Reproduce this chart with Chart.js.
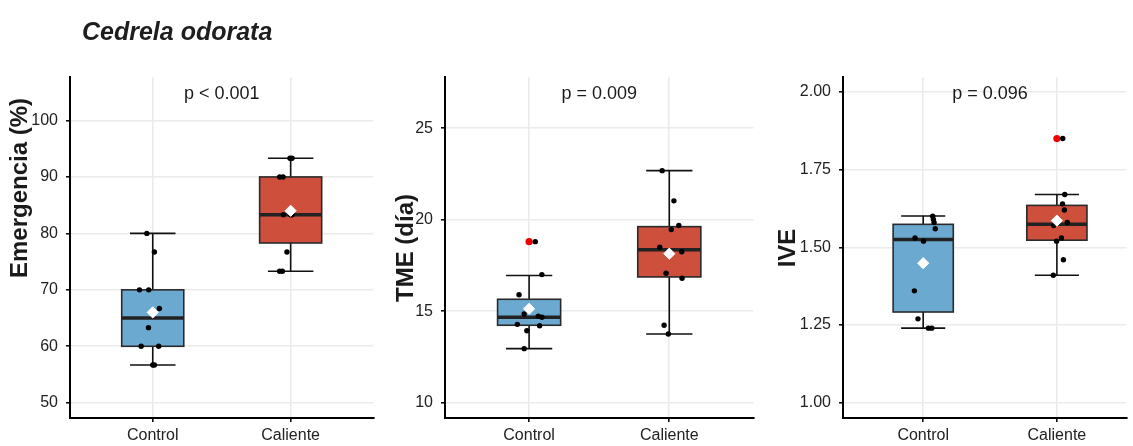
<!DOCTYPE html>
<html>
<head>
<meta charset="utf-8">
<script src="https://cdn.jsdelivr.net/npm/chart.js@4"></script>
<style>
  body { margin: 0; background: #fff; }
  #wrap { position: relative; width: 1133px; height: 446px; overflow: hidden; }
  canvas { position: absolute; top: 0; }
</style>
</head>
<body>
<div id="wrap">
  <canvas id="c1" width="380" height="446" style="left:0px"></canvas>
  <canvas id="c2" width="385" height="446" style="left:375px"></canvas>
  <canvas id="c3" width="373" height="446" style="left:760px"></canvas>
</div>
<script>
const groups = ['Control', 'Caliente'];

// Emergencia (%)
const emgStats = [[56.7, 60, 65, 70, 80], [73.3, 78.3, 83.3, 90, 93.3]]; // min, q1, median, q3, max
const emgMeans = [66, 84];
const emgVals = [80, 76.7, 70, 70, 66.7, 63.3, 60, 60, 56.7, 56.7,
                 93.3, 93.3, 90, 90, 83.3, 83.3, 83.3, 76.7, 73.3, 73.3];
const emgJit = [0.957, 1.012, 0.904, 0.971, 1.048, 0.969, 0.916, 1.043, 1.0, 1.012,
                1.995, 2.01, 1.92, 1.945, 1.947, 2.0, 2.01, 1.973, 1.92, 1.94];
const emgOut = [];
const emgTicks = [50, 60, 70, 80, 90, 100];

// TME (dia)
const tmeStats = [[12.95, 14.23, 14.67, 15.65, 16.95], [13.75, 16.87, 18.36, 19.62, 22.68]];
const tmeMeans = [15.13, 18.14];
const tmeVals = [18.8, 17.0, 15.9, 14.85, 14.28, 14.72, 14.67, 14.2, 13.93, 12.95,
                 22.68, 21.03, 19.68, 19.46, 18.5, 18.25, 17.07, 16.8, 14.23, 13.75];
const tmeJit = [1.044, 1.091, 0.928, 0.965, 0.916, 1.065, 1.091, 1.075, 0.984, 0.965,
                1.949, 2.033, 2.068, 2.014, 1.932, 2.089, 1.977, 2.091, 1.963, 1.993];
const tmeOut = [[1, 18.8]];
const tmeTicks = [10, 15, 20, 25];

// IVE
const iveStats = [[1.24, 1.292, 1.525, 1.574, 1.601], [1.41, 1.523, 1.574, 1.635, 1.67]];
const iveMeans = [1.449, 1.586];
const iveVals = [1.60, 1.59, 1.58, 1.56, 1.53, 1.52, 1.36, 1.27, 1.24, 1.24,
                 1.85, 1.67, 1.64, 1.62, 1.58, 1.57, 1.53, 1.52, 1.46, 1.41];
const iveJit = [1.071, 1.076, 1.081, 1.09, 0.939, 1.002, 0.934, 0.961, 1.039, 1.064,
                2.044, 2.059, 2.042, 2.056, 2.078, 1.976, 2.034, 1.998, 2.049, 1.973];
const iveOut = [[2, 1.85]];
const iveTicks = [1.00, 1.25, 1.50, 1.75, 2.00];

const pLabels = ['p < 0.001', 'p = 0.009', 'p = 0.096'];
const fillCols = ['#6ca9d1', '#cf4f3d'];
const FONT = '"Liberation Sans", Arial, sans-serif';

// boxes, whiskers and text drawn through the chart's own scales
const boxPlugin = {
  id: 'boxes',
  beforeDatasetsDraw(chart, args, o) {
    const { ctx } = chart;
    const xs = chart.scales.x, ys = chart.scales.y;
    ctx.save();
    o.stats.forEach((s, i) => {
      const c = i + 1;
      const x = xs.getPixelForValue(c);
      const xl = xs.getPixelForValue(c - 0.225), xr = xs.getPixelForValue(c + 0.225);
      const cl = xs.getPixelForValue(c - 0.165), cr = xs.getPixelForValue(c + 0.165);
      const [mn, q1, md, q3, mx] = s.map(v => ys.getPixelForValue(v));
      ctx.strokeStyle = '#111';
      ctx.lineWidth = 1.6;
      ctx.beginPath();
      ctx.moveTo(x, mn); ctx.lineTo(x, q1);
      ctx.moveTo(x, q3); ctx.lineTo(x, mx);
      ctx.moveTo(cl, mn); ctx.lineTo(cr, mn);
      ctx.moveTo(cl, mx); ctx.lineTo(cr, mx);
      ctx.stroke();
      ctx.fillStyle = fillCols[i];
      ctx.fillRect(xl, q3, xr - xl, q1 - q3);
      ctx.strokeStyle = '#2a2a2a';
      ctx.lineWidth = 1.6;
      ctx.strokeRect(xl, q3, xr - xl, q1 - q3);
      ctx.strokeStyle = '#222';
      ctx.lineWidth = 3.5;
      ctx.beginPath();
      ctx.moveTo(xl, md); ctx.lineTo(xr, md);
      ctx.stroke();
    });
    ctx.restore();
  },
  afterDraw(chart, args, o) {
    const { ctx } = chart;
    const xs = chart.scales.x;
    ctx.save();
    ctx.fillStyle = '#1a1a1a';
    ctx.textAlign = 'center';
    ctx.textBaseline = 'middle';
    ctx.font = '18px ' + FONT;
    ctx.fillText(o.p, xs.getPixelForValue(1.5), chart.chartArea.top + 17);
    ctx.translate(o.tx, o.ty);
    ctx.rotate(-Math.PI / 2);
    ctx.font = 'bold 24px ' + FONT;
    ctx.fillText(o.title, 0, 0);
    ctx.restore();
    if (o.main) {
      ctx.save();
      ctx.fillStyle = '#1e1e1e';
      ctx.font = 'italic bold 25px ' + FONT;
      ctx.textBaseline = 'alphabetic';
      ctx.fillText(o.main, 82, 40);
      ctx.restore();
    }
  }
};

function makePanel(id, cfg) {
  const pts = cfg.jit.map((x, i) => ({ x: x, y: cfg.vals[i] }));
  const means = cfg.means.map((m, i) => ({ x: i + 1, y: m }));
  const outs = cfg.outs.map(p => ({ x: p[0], y: p[1] }));
  return new Chart(document.getElementById(id), {
    type: 'scatter',
    data: {
      datasets: [
        { data: means, pointStyle: 'rectRot', pointRadius: 5.6, backgroundColor: '#fff', borderColor: '#fff', borderWidth: 1 },
        { data: pts, pointRadius: 2.7, backgroundColor: '#000', borderColor: '#000', borderWidth: 0 },
        { data: outs, pointRadius: 3.6, backgroundColor: '#f00000', borderColor: '#f00000', borderWidth: 0 }
      ]
    },
    options: {
      responsive: false,
      animation: false,
      events: [],
      layout: { padding: { top: 77, right: cfg.padRight, left: 0, bottom: 0 } },
      plugins: {
        legend: { display: false },
        tooltip: { enabled: false },
        boxes: { stats: cfg.stats, p: cfg.p, title: cfg.title, tx: cfg.tx, ty: cfg.ty, main: cfg.main }
      },
      scales: {
        x: {
          type: 'linear',
          min: 0.4,
          max: cfg.xMax,
          afterBuildTicks: s => { s.ticks = [{ value: 1 }, { value: 2 }]; },
          afterFit: s => { s.height = 28; },
          ticks: {
            callback: v => groups[v - 1],
            color: '#222',
            font: { family: FONT, size: 16 },
            padding: 4,
            maxRotation: 0
          },
          grid: { color: '#ebebeb', lineWidth: 1.6, tickColor: '#000', tickLength: 4, tickWidth: 1.5 },
          border: { color: '#000', width: 2 }
        },
        y: {
          min: cfg.yMin,
          max: cfg.yMax,
          afterBuildTicks: s => { s.ticks = cfg.ticks.map(v => ({ value: v })); },
          afterFit: s => { s.width = cfg.yWidth; },
          ticks: {
            callback: v => cfg.dec ? v.toFixed(cfg.dec) : String(v),
            color: '#222',
            font: { family: FONT, size: 16 },
            padding: 8
          },
          grid: { color: '#ebebeb', lineWidth: 1.6, tickColor: '#000', tickLength: 4, tickWidth: 1.5 },
          border: { color: '#000', width: 2 }
        }
      }
    },
    plugins: [boxPlugin]
  });
}

makePanel('c1', {
  stats: emgStats, means: emgMeans, vals: emgVals, jit: emgJit, outs: emgOut, ticks: emgTicks,
  yMin: 47.3, yMax: 107.7, xMax: 2.6, yWidth: 70, padRight: 6,
  p: pLabels[0], title: 'Emergencia (%)', tx: 20, ty: 188, main: 'Cedrela odorata'
});
makePanel('c2', {
  stats: tmeStats, means: tmeMeans, vals: tmeVals, jit: tmeJit, outs: tmeOut, ticks: tmeTicks,
  yMin: 9.16, yMax: 27.8, xMax: 2.6, yWidth: 70, padRight: 2,
  p: pLabels[1], title: 'TME (día)', tx: 31, ty: 248
});
makePanel('c3', {
  stats: iveStats, means: iveMeans, vals: iveVals, jit: iveJit, outs: iveOut, ticks: iveTicks,
  yMin: 0.951, yMax: 2.048, xMax: 2.52, yWidth: 83, padRight: 0, dec: 2,
  p: pLabels[2], title: 'IVE', tx: 28, ty: 248
});
</script>
</body>
</html>
